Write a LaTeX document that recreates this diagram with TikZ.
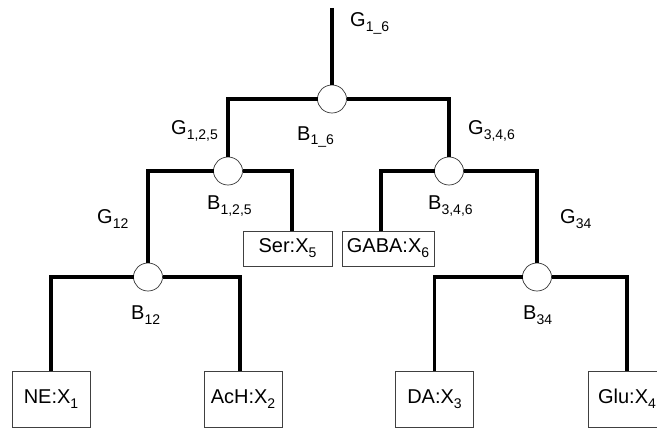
\documentclass[tikz,border=0pt]{standalone}
\usepackage{fontspec}
\setmainfont{Liberation Sans}
\usetikzlibrary{shapes.geometric}
\newcommand\sbs[1]{\raisebox{-5pt}{\fontsize{14}{14}\selectfont #1}}
\begin{document}
\begin{tikzpicture}[x=1pt,y=-1pt,
  junc/.style={draw=black!80, line width=0.7pt, fill=white, ellipse, minimum width=29pt, minimum height=28pt, inner sep=0pt, outer sep=0pt},
  leaf/.style={draw=black!75, line width=0.8pt, fill=white, inner sep=0pt, outer sep=0pt, font=\fontsize{20}{20}\selectfont},
  small/.style={leaf, minimum width=89pt, minimum height=35pt},
  big/.style={leaf, minimum width=78pt, minimum height=56pt},
  lab/.style={anchor=base west, inner sep=0pt, font=\fontsize{20}{20}\selectfont},
  wire/.style={line width=3.5pt}]
\useasboundingbox (0,0) rectangle (657,428);
% junctions
\node[junc] (r) at (332,99) {};
\node[junc] (a) at (228,171) {};
\node[junc] (b) at (449,171) {};
\node[junc] (c) at (148,277) {};
\node[junc] (d) at (537,277) {};
\coordinate (top) at (332,8);
% boxes
\node[small] (ser) at (287.5,248.5) {Ser:X\sbs{5}};
\node[small, minimum width=92pt] (gaba) at (388,248.5) {GABA:X\sbs{6}};
\node[big] (ne) at (51,399) {NE:X\sbs{1}};
\node[big] (ach) at (243,399) {AcH:X\sbs{2}};
\node[big] (da) at (434.5,399) {DA:X\sbs{3}};
\node[big] (glu) at (627,399) {Glu:X\sbs{4}};
% wires
\draw[wire] (top) -- (r.north);
\draw[wire] (r.west) -| (a.north);
\draw[wire] (r.east) -| (b.north);
\draw[wire] (a.west) -| (c.north);
\draw[wire] (a.east) -| ([xshift=4.5pt]ser.north);
\draw[wire] (b.west) -| ([xshift=-7pt]gaba.north);
\draw[wire] (b.east) -| (d.north);
\draw[wire] (c.west) -| (ne.north);
\draw[wire] (c.east) -| ([xshift=-3pt]ach.north);
\draw[wire] (d.west) -| (da.north);
\draw[wire] (d.east) -| (glu.north);
% labels
\node[lab] (g16) at (350,27) {G\sbs{1\_6}};
\node[lab] (g125) at (171,135) {G\sbs{1,2,5}};
\node[lab] (b16) at (297,140) {B\sbs{1\_6}};
\node[lab] (g346) at (468,135) {G\sbs{3,4,6}};
\node[lab] (b125) at (207,209) {B\sbs{1,2,5}};
\node[lab] (b346) at (428,209) {B\sbs{3,4,6}};
\node[lab] (g12) at (97,223) {G\sbs{12}};
\node[lab] (g34) at (560,223) {G\sbs{34}};
\node[lab] (b12) at (131,319) {B\sbs{12}};
\node[lab] (b34) at (523,319) {B\sbs{34}};
\end{tikzpicture}
\end{document}
